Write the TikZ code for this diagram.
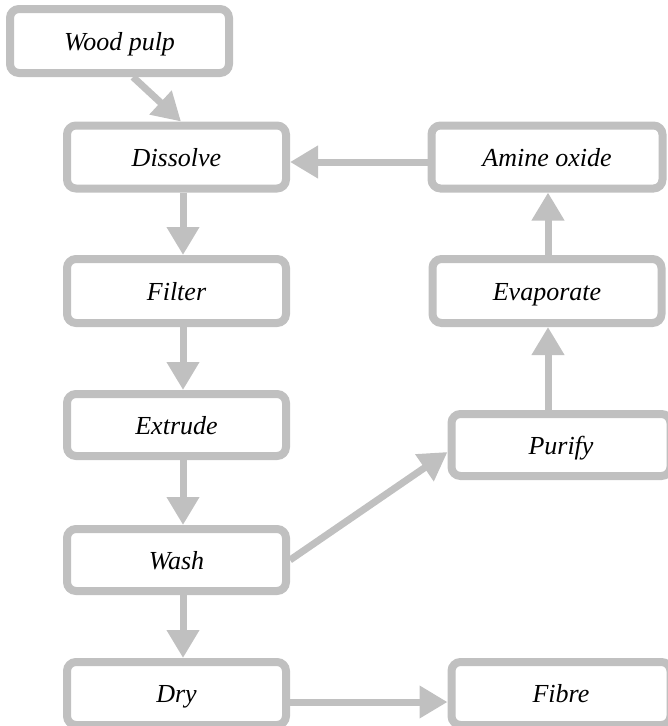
\documentclass[tikz,border=0pt]{standalone}
\usepackage{fontspec}
\setmainfont{Liberation Serif}
\usetikzlibrary{arrows.meta}
\definecolor{boxgray}{RGB}{192,192,192}
\tikzset{
  procbox/.style={draw=boxgray, line width=8pt, rounded corners=9pt, fill=white,
    inner sep=0pt, minimum width=219pt, minimum height=63pt,
    text height=24pt, text depth=6pt,
    font=\fontsize{26}{30}\selectfont\itshape, text=black},
  flowarrow/.style={draw=boxgray, line width=7pt,
    -{Triangle[length=28pt,width=31pt,fill=boxgray]}}
}
\begin{document}
\begin{tikzpicture}[x=1pt,y=-1pt]
\useasboundingbox (0,0) rectangle (668,726);
\node[procbox, minimum height=64pt] (wp) at (119.5,41) {Wood pulp};
\node[procbox] (dis) at (176.5,157) {Dissolve};
\node[procbox, minimum height=64pt] (fil) at (176.5,291) {Filter};
\node[procbox, minimum height=62pt] (ext) at (176.5,425) {Extrude};
\node[procbox, minimum height=62pt] (wash) at (176.5,560) {Wash};
\node[procbox] (dry) at (176.5,693.5) {Dry};
\node[procbox, minimum width=231pt] (amine) at (547,157) {Amine oxide};
\node[procbox, minimum width=229pt, minimum height=64pt] (evap) at (547,291) {Evaporate};
\node[procbox, minimum height=62pt] (pur) at (561,445) {Purify};
\node[procbox] (fib) at (561,693.5) {Fibre};

\draw[flowarrow] ([xshift=13.5pt]wp.south) -- ([xshift=4.5pt]dis.north);
\draw[flowarrow] ([xshift=6.5pt]dis.south) -- ([xshift=6.5pt]fil.north);
\draw[flowarrow] ([xshift=6.5pt]fil.south) -- ([xshift=6.5pt]ext.north);
\draw[flowarrow] ([xshift=6.5pt]ext.south) -- ([xshift=6.5pt]wash.north);
\draw[flowarrow] ([xshift=6.5pt]wash.south) -- ([xshift=6.5pt]dry.north);
\draw[flowarrow] ([yshift=-5pt]amine.west) -- ([yshift=-5pt]dis.east);
\draw[flowarrow] ([xshift=1pt]evap.north) -- ([xshift=1pt]amine.south);
\draw[flowarrow] ([xshift=1pt]evap.south |- pur.north) -- ([xshift=1pt]evap.south);
\draw[flowarrow] (wash.east) -- ([yshift=-7pt]pur.west);
\draw[flowarrow] ([yshift=-8.5pt]dry.east) -- ([yshift=-8.5pt]dry.east -| fib.west);
\end{tikzpicture}
\end{document}
